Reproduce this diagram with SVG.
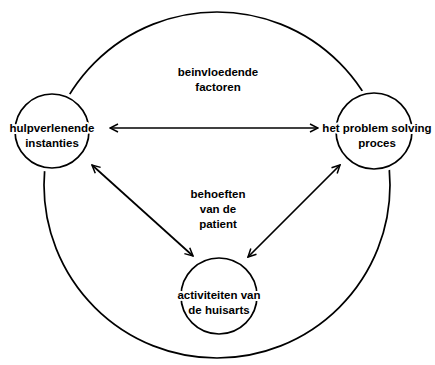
<svg xmlns="http://www.w3.org/2000/svg" width="435" height="365" viewBox="0 0 435 365">
<style>
.ln{fill:none;stroke:#000;stroke-width:1.7}
.mask{fill:#fff;stroke:none}
.t{font-family:"Liberation Sans",Arial,sans-serif;font-size:11.5px;font-weight:bold;fill:#000;text-anchor:middle;stroke:#fff;stroke-width:4;stroke-linejoin:round;paint-order:stroke}
</style>
<defs>
<marker id="ah" viewBox="0 0 10 10" refX="9" refY="5" markerWidth="10" markerHeight="10" markerUnits="userSpaceOnUse" orient="auto-start-reverse">
<path d="M1,1 L9,5 L1,9" fill="none" stroke="#000" stroke-width="1.5"/>
</marker>
</defs>
<g id="outer"><circle class="ln" cx="217" cy="185" r="173"/></g>
<g id="connectors">
<line class="ln" x1="110" y1="128" x2="318" y2="128" marker-start="url(#ah)" marker-end="url(#ah)"/>
<line class="ln" x1="92" y1="165" x2="193" y2="256" marker-start="url(#ah)" marker-end="url(#ah)"/>
<line class="ln" x1="340" y1="165" x2="248" y2="257" marker-start="url(#ah)" marker-end="url(#ah)"/>
</g>
<g id="n1">
<circle class="mask" cx="52" cy="131" r="41"/>
<circle class="ln" cx="52" cy="131" r="37"/>
<text class="t" x="52" y="132">hulpverlenende</text>
<text class="t" x="52" y="147">instanties</text>
</g>
<g id="n2">
<circle class="mask" cx="374" cy="131" r="42"/>
<circle class="ln" cx="374" cy="131" r="38"/>
<text class="t" x="377" y="132">het problem solving</text>
<text class="t" x="377" y="147">proces</text>
</g>
<g id="n3">
<circle class="ln" cx="219" cy="296" r="38"/>
<text class="t" x="219" y="299">activiteiten van</text>
<text class="t" x="219" y="314">de huisarts</text>
</g>
<g id="labels">
<text class="t" x="218" y="76">beinvloedende</text>
<text class="t" x="218" y="91">factoren</text>
<text class="t" x="218" y="198">behoeften</text>
<text class="t" x="218" y="213">van de</text>
<text class="t" x="218" y="228">patient</text>
</g>
</svg>
